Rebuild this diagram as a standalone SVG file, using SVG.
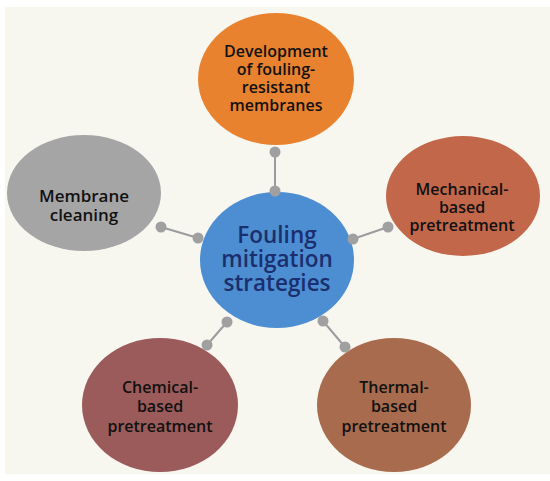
<svg xmlns="http://www.w3.org/2000/svg" width="550" height="481" viewBox="0 0 550 481">
<style>
.t{font-family:"Open Sans","Liberation Sans",sans-serif;font-size:16px;font-weight:600;fill:#111;text-anchor:middle}
.c{font-family:"Open Sans","Liberation Sans",sans-serif;font-size:22.5px;font-weight:600;fill:#1b2f6e;text-anchor:middle}
.ln{stroke:#9c9c9c;stroke-width:2;fill:none}
.dot{fill:#a0a0a0}
</style>
<rect x="0" y="0" width="550" height="481" fill="#ffffff"/>
<rect x="5" y="7" width="545" height="467" fill="#f7f6ef"/>
<g id="connectors">
<line class="ln" x1="275" y1="152" x2="275" y2="191"/>
<line class="ln" x1="161" y1="227" x2="198" y2="238"/>
<line class="ln" x1="353" y1="239" x2="388" y2="227"/>
<line class="ln" x1="227" y1="322" x2="207" y2="345"/>
<line class="ln" x1="323" y1="321" x2="345" y2="347"/>
</g>
<g id="top">
<ellipse cx="276" cy="79" rx="78" ry="66" fill="#e9822f"/>
<text class="t"><tspan x="276" y="57">Development</tspan><tspan x="276" y="75">of fouling-</tspan><tspan x="276" y="93">resistant</tspan><tspan x="276" y="111">membranes</tspan></text>
</g>
<g id="cleaning">
<ellipse cx="84" cy="193" rx="77" ry="58" fill="#a5a5a5"/>
<text class="t" style="font-size:17px"><tspan x="84" y="202">Membrane</tspan><tspan x="84" y="221">cleaning</tspan></text>
</g>
<g id="mechanical">
<ellipse cx="463" cy="196" rx="77" ry="60" fill="#c3674b"/>
<text class="t"><tspan x="462" y="195">Mechanical-</tspan><tspan x="462" y="213">based</tspan><tspan x="462" y="231">pretreatment</tspan></text>
</g>
<g id="chemical">
<ellipse cx="160" cy="405" rx="78" ry="67" fill="#9b5b5a"/>
<text class="t"><tspan x="160" y="393">Chemical-</tspan><tspan x="160" y="412">based</tspan><tspan x="160" y="432">pretreatment</tspan></text>
</g>
<g id="thermal">
<ellipse cx="394" cy="405" rx="77" ry="67" fill="#a96b4d"/>
<text class="t"><tspan x="394" y="393">Thermal-</tspan><tspan x="394" y="412">based</tspan><tspan x="394" y="432">pretreatment</tspan></text>
</g>
<g id="center">
<ellipse cx="277" cy="260" rx="77" ry="68" fill="#4d8ed2"/>
<text class="c"><tspan x="277" y="243">Fouling</tspan><tspan x="277" y="267">mitigation</tspan><tspan x="277" y="291">strategies</tspan></text>
</g>
<g id="dots">
<circle class="dot" cx="275" cy="152" r="5.5"/>
<circle class="dot" cx="275" cy="191" r="5.5"/>
<circle class="dot" cx="161" cy="227" r="5.5"/>
<circle class="dot" cx="198" cy="238" r="5.5"/>
<circle class="dot" cx="353" cy="239" r="5.5"/>
<circle class="dot" cx="388" cy="227" r="5.5"/>
<circle class="dot" cx="227" cy="322" r="5.5"/>
<circle class="dot" cx="207" cy="345" r="5.5"/>
<circle class="dot" cx="323" cy="321" r="5.5"/>
<circle class="dot" cx="345" cy="347" r="5.5"/>
</g>
</svg>
